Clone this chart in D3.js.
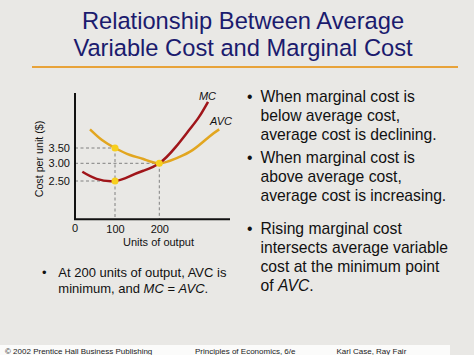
<!DOCTYPE html>
<html><head><meta charset="utf-8">
<script src="https://cdn.jsdelivr.net/npm/d3@7"></script>
<style>html,body{margin:0;padding:0;background:#e9e8e5;}svg{display:block;}</style>
</head><body>
<script>
// ---- data ----
const titleLines = ["Relationship Between Average", "Variable Cost and Marginal Cost"];
const mcX  = [18.3, 54, 100, 133.9, 163.9, 200, 236.3, 266.4, 289, 310];
const mcY  = [2.76, 2.56, 2.5, 2.64, 2.79, 3.0, 3.52, 4.07, 4.50, 5.01];
const avcX = [37.5, 67.5, 100, 133.9, 163.9, 200, 237.7, 275, 312.6, 335.2];
const avcY = [4.11, 3.76, 3.5, 3.27, 3.14, 3.0, 3.16, 3.43, 3.87, 4.11];
const keyX = [100, 100, 200];
const keyY = [3.5, 2.5, 3.0];
const yTicks = [2.5, 3.0, 3.5];
const xTicks = [100, 200];
const bullets = [
  ["When marginal cost is", "below average cost,", "average cost is declining."],
  ["When marginal cost is", "above average cost,", "average cost is increasing."],
  ["Rising marginal cost", "intersects average variable", "cost at the minimum point", "of <i>AVC</i>."]
];
const noteLines = ["At 200 units of output, AVC is", "minimum, and <i>MC</i> = <i>AVC</i>."];
const footer = ["© 2002 Prentice Hall Business Publishing", "Principles of Economics, 6/e", "Karl Case, Ray Fair"];

const W = 474, H = 355;
const svg = d3.select("body").append("svg").attr("width", W).attr("height", H);
const font = "'Liberation Sans', Arial, sans-serif";
svg.append("rect").attr("width", W).attr("height", H).attr("fill", "#e9e8e5");

// rich text helper: supports <i>..</i>
function rich(sel, str) {
  str.split(/(<i>.*?<\/i>)/).filter(s => s.length).forEach(s => {
    const it = s.startsWith("<i>");
    sel.append("tspan").attr("font-style", it ? "italic" : null)
      .text(it ? s.slice(3, -4) : s);
  });
}

// title
svg.selectAll("text.title").data(titleLines).join("text")
  .attr("x", 243).attr("y", (d, i) => 29 + i * 26.5)
  .attr("text-anchor", "middle").attr("font-family", font).attr("font-size", 23.7)
  .attr("fill", "#1b1b6e").text(d => d);
svg.append("line").attr("x1", 32).attr("x2", 458).attr("y1", 67).attr("y2", 67)
  .attr("stroke", "#e8a33a").attr("stroke-width", 2);

// scales (piecewise linear to follow the hand-drawn schematic)
const x = d3.scaleLinear().domain([0, 100, 200]).range([75, 115, 159.3]);
const y = d3.scaleLinear().domain([2.5, 3.0, 3.5]).range([181, 163.3, 148]);
const xMax = 359.6, yMin = 1.418, yMax = 5.3;

const g = svg.append("g");
// dashed guide lines
const dash = g.append("g").attr("stroke", "#808080").attr("stroke-width", 1).attr("stroke-dasharray", "3,2.5");
keyX.forEach((kx, i) => {
  dash.append("line").attr("x1", x(0)).attr("x2", x(kx)).attr("y1", y(keyY[i])).attr("y2", y(keyY[i]));
});
[[100, 3.5], [200, 3.0]].forEach(([kx, ky]) => {
  dash.append("line").attr("x1", x(kx)).attr("x2", x(kx)).attr("y1", y(ky)).attr("y2", y(yMin));
});

// axes
const xAxis = d3.axisBottom(x).tickValues(xTicks).tickSize(0).tickPadding(6).tickFormat(d3.format("d"));
const yAxis = d3.axisLeft(y).tickValues(yTicks).tickSize(0).tickPadding(5).tickFormat(d3.format(".2f"));
const gx = g.append("g").attr("transform", `translate(0,${y(yMin)})`).call(xAxis);
const gy = g.append("g").attr("transform", `translate(${x(0)},0)`).call(yAxis);
[gx, gy].forEach(a => {
  a.select(".domain").remove();
  a.selectAll("text").attr("font-family", font).attr("font-size", 11).attr("fill", "#111");
});
gx.append("text").attr("x", x(0)).attr("y", 12.5).attr("text-anchor", "middle").attr("font-family", font)
  .attr("font-size", 11).attr("fill", "#111").text("0");
g.append("line").attr("x1", x(0)).attr("x2", x(0)).attr("y1", y(yMax)).attr("y2", y(yMin))
  .attr("stroke", "#111").attr("stroke-width", 2);
g.append("line").attr("x1", x(0) - 1).attr("x2", x(xMax)).attr("y1", y(yMin)).attr("y2", y(yMin))
  .attr("stroke", "#111").attr("stroke-width", 2);

// curves
const line = d3.line().x(d => x(d[0])).y(d => y(d[1])).curve(d3.curveNatural);
g.append("path").datum(avcX.map((v, i) => [v, avcY[i]])).attr("d", line)
  .attr("fill", "none").attr("stroke", "#e2a620").attr("stroke-width", 2.5);
g.append("path").datum(mcX.map((v, i) => [v, mcY[i]])).attr("d", line)
  .attr("fill", "none").attr("stroke", "#a0151a").attr("stroke-width", 2.5);

// key points
g.selectAll("circle.k").data(keyX.map((v, i) => [v, keyY[i]])).join("circle")
  .attr("cx", d => x(d[0])).attr("cy", d => y(d[1])).attr("r", 3.5).attr("fill", "#f7cf1e");

// curve labels
g.append("text").attr("x", 207.5).attr("y", 99.5).attr("text-anchor", "middle").attr("font-family", font)
  .attr("font-style", "italic").attr("font-size", 11).attr("fill", "#111").text("MC");
g.append("text").attr("x", 221).attr("y", 124.5).attr("text-anchor", "middle").attr("font-family", font)
  .attr("font-style", "italic").attr("font-size", 11).attr("fill", "#111").text("AVC");

// axis titles
g.append("text").attr("transform", "translate(42.5,159) rotate(-90)").attr("text-anchor", "middle")
  .attr("font-family", font).attr("font-size", 10.7).attr("fill", "#111").text("Cost per unit ($)");
g.append("text").attr("x", 158.5).attr("y", 245.5).attr("text-anchor", "middle")
  .attr("font-family", font).attr("font-size", 11).attr("fill", "#111").text("Units of output");

// right bullets
const tb = svg.append("g").attr("font-family", font).attr("fill", "#111");
const paraY = [101.7, 163.3, 234];
bullets.forEach((lines, p) => {
  tb.append("text").attr("x", 247).attr("y", paraY[p]).attr("font-size", 15.7).text("•");
  lines.forEach((l, i) => {
    rich(tb.append("text").attr("x", 260.5).attr("y", paraY[p] + i * 19).attr("font-size", 15.7), l);
  });
});
// bottom-left note
tb.append("text").attr("x", 42).attr("y", 276.7).attr("font-size", 13).text("•");
noteLines.forEach((l, i) => {
  rich(tb.append("text").attr("x", 58.3).attr("y", 276.7 + i * 16).attr("font-size", 13), l);
});

// footer
svg.append("rect").attr("x", 0).attr("y", 345).attr("width", 450).attr("height", 10).attr("fill", "#fbfbfa");
const fx = [5, 195, 336.5];
svg.selectAll("text.f").data(footer).join("text").attr("x", (d, i) => fx[i]).attr("y", 354)
  .attr("font-family", font).attr("font-size", 8).attr("fill", "#222").text(d => d);
</script>
</body></html>
